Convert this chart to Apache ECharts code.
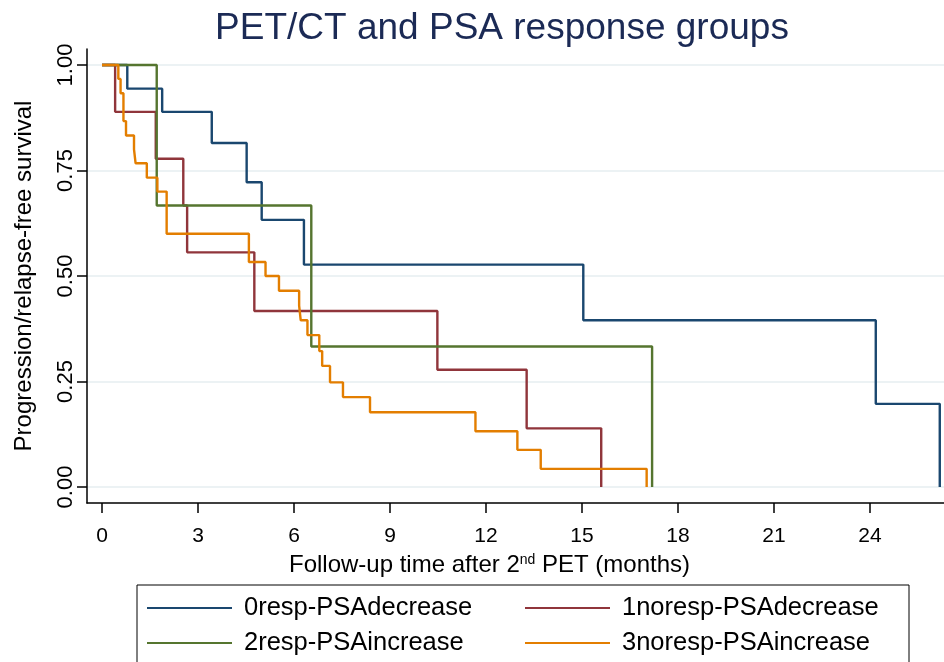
<!DOCTYPE html>
<html>
<head>
<meta charset="utf-8">
<script src="https://cdn.jsdelivr.net/npm/echarts@6/dist/echarts.min.js"></script>
<style>html,body{margin:0;padding:0;background:#fff;}#c{width:944px;height:662px;}</style>
</head>
<body>
<div id="c"></div>
<script>
// Kaplan-Meier step data: [time (months), survival after event]
var seriesNames = ['0resp-PSAdecrease', '1noresp-PSAdecrease', '2resp-PSAincrease', '3noresp-PSAincrease'];
var blueData = [[0,1],[0.79,0.944],[1.88,0.889],[3.43,0.815],[4.52,0.722],[4.99,0.633],[6.31,0.527],[15.04,0.395],[24.18,0.197],[26.18,0]];
var redData = [[0,1],[0.41,0.889],[1.68,0.778],[2.54,0.667],[2.66,0.556],[4.76,0.417],[10.48,0.278],[13.27,0.139],[15.6,0]];
var greenData = [[0,1],[1.71,0.667],[6.54,0.333],[17.19,0]];
var orangeData = [[0,1],[0.51,0.967],[0.58,0.933],[0.67,0.867],[0.75,0.833],[1.0,0.8],[1.05,0.767],[1.40,0.733],[1.73,0.7],[2.02,0.6],[4.59,0.533],[5.11,0.5],[5.53,0.465],[6.16,0.43],[6.21,0.395],[6.42,0.36],[6.79,0.322],[6.88,0.287],[7.125,0.248],[7.53,0.213],[8.375,0.177],[11.67,0.132],[12.98,0.088],[13.71,0.043],[17.02,0]];
var xTicks = [0,3,6,9,12,15,18,21,24];
var yTicks = [0,0.25,0.5,0.75,1];

var colors = ['#1a476f', '#90353b', '#55752f', '#e37e00'];
var allData = [blueData, redData, greenData, orangeData];
var FONT = 'Liberation Sans, Arial, Helvetica, sans-serif';

var chart = echarts.init(document.getElementById('c'), null, {renderer: 'canvas'});
var series = seriesNames.map(function (n, i) {
  return {
    name: n, type: 'line', step: 'end', data: allData[i],
    symbol: 'none', clip: false, animation: false,
    lineStyle: {color: colors[i], width: 2.4},
    itemStyle: {color: colors[i]}
  };
});

chart.setOption({
  animation: false,
  title: {
    text: 'PET/CT and PSA response groups',
    left: 497, top: 5, textAlign: 'center',
    textStyle: {fontFamily: FONT, fontSize: 37, fontWeight: 'normal', color: '#1b2a55'}
  },
  grid: {left: 87, top: 49, width: 857, height: 454, containLabel: false},
  xAxis: {
    type: 'value', min: -0.469, max: 26.312,
    name: 'Follow-up time after 2{sup|nd} PET (months)',
    nameLocation: 'middle', nameGap: 50,
    nameTextStyle: {fontFamily: FONT, fontSize: 24, color: '#000', padding: [0, 52, 0, 0],
      rich: {sup: {fontSize: 14, verticalAlign: 'top', fontFamily: FONT, color: '#000'}}},
    axisLine: {show: true, onZero: false, lineStyle: {color: '#000', width: 1.5}},
    axisTick: {show: true, length: 10, customValues: xTicks, lineStyle: {color: '#000', width: 1.5}},
    axisLabel: {customValues: xTicks, margin: 23, fontFamily: FONT, fontSize: 21, color: '#000'},
    splitLine: {show: false}
  },
  yAxis: {
    type: 'value', min: -0.0379, max: 1.0379,
    name: 'Progression/relapse-free survival',
    nameLocation: 'middle', nameGap: 51, nameRotate: 90,
    nameTextStyle: {fontFamily: FONT, fontSize: 24, color: '#000'},
    axisLine: {show: true, onZero: false, lineStyle: {color: '#000', width: 1.5}},
    axisTick: {show: true, length: 10, customValues: yTicks, lineStyle: {color: '#000', width: 1.5}},
    axisLabel: {customValues: yTicks, rotate: 90, margin: 10, fontFamily: FONT, fontSize: 22, color: '#000',
      formatter: function (v) { return v.toFixed(2); }},
    splitLine: {show: true, lineStyle: {color: '#e6eef1', width: 1.5}}
  },
  legend: {
    data: seriesNames,
    left: 137, top: 585, orient: 'horizontal', width: 790,
    icon: 'rect', itemWidth: 85, itemHeight: 2, itemGap: 9,
    padding: [10, 15, 12, 10],
    borderColor: '#000', borderWidth: 1,
    textStyle: {fontFamily: FONT, fontSize: 25.5, color: '#000', width: 272, lineHeight: 26, padding: [0, 0, 0, 7]}
  },
  series: series
});
</script>
</body>
</html>
